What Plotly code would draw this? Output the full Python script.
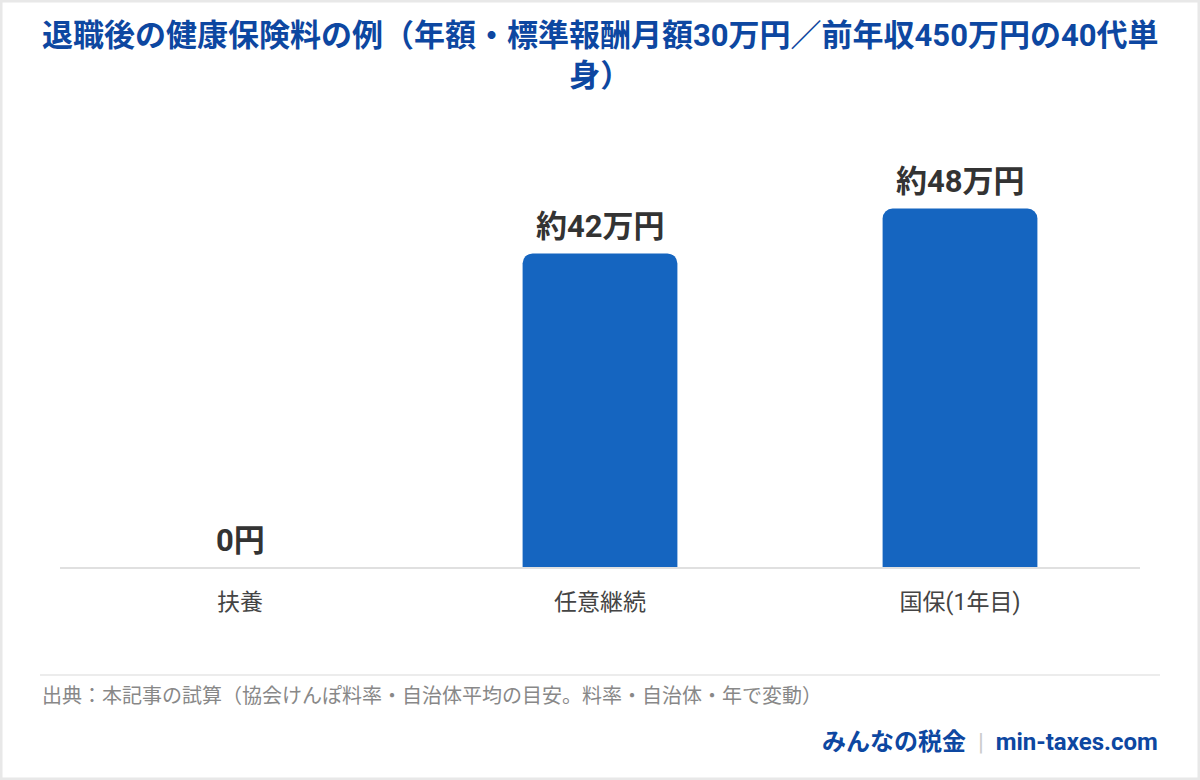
import plotly.graph_objects as go

# data
categories = ["扶養", "任意継続", "国保(1年目)"]
premiums = [0, 42, 48]  # 万円 / year
bar_labels = ["0円", "約42万円", "約48万円"]

title = "退職後の健康保険料の例（年額・標準報酬月額30万円／前年収450万円の40代単<br>身）"
source = "出典：本記事の試算（協会けんぽ料率・自治体平均の目安。料率・自治体・年で変動）"

FONT = "Roboto, 'Noto Sans CJK JP', sans-serif"
BLUE = "#1565c0"
NAVY = "#0d47a1"

# pixel -> paper helpers (plot area x 60..1140, y 119..567)
def px(x):
    return (x - 60) / 1080

def py(y):
    return (567 - y) / 448

fig = go.Figure()

fig.add_trace(go.Bar(
    x=categories,
    y=premiums,
    marker=dict(color=BLUE, line=dict(width=0)),
    hoverinfo="skip",
))

# value labels above each bar
for cat, val, lab in zip(categories, premiums, bar_labels):
    fig.add_annotation(
        x=cat, y=val, text="<b>" + lab + "</b>",
        xanchor="center", yanchor="middle", yshift=27,
        showarrow=False,
        font=dict(size=31, color="#333333", family=FONT),
    )

fig.update_layout(
    width=1200,
    height=780,
    margin=dict(l=60, r=60, t=119, b=213),
    paper_bgcolor="white",
    plot_bgcolor="white",
    bargap=0.57,
    barcornerradius=10,
    showlegend=False,
    font=dict(family=FONT),
    xaxis=dict(
        showline=True,
        linecolor="#e0e0e0",
        linewidth=2,
        showgrid=False,
        ticks="outside",
        ticklen=13,
        tickcolor="rgba(0,0,0,0)",
        tickfont=dict(size=23, color="#444444", family=FONT),
        fixedrange=True,
    ),
    yaxis=dict(
        range=[0, 60],
        visible=False,
        showgrid=False,
        zeroline=False,
        fixedrange=True,
    ),
)

# title as annotation (handles two lines cleanly)
fig.add_annotation(
    text="<b>" + title + "</b>", xref="paper", yref="paper",
    x=0.5, y=py(55), xanchor="center", yanchor="middle",
    showarrow=False, font=dict(size=31, color=NAVY, family=FONT),
)

# card border
fig.add_shape(type="rect", xref="paper", yref="paper",
              x0=px(1), x1=px(1199), y0=py(1), y1=py(779),
              line=dict(color="#e8e8e8", width=3), layer="below")
# footer separator
fig.add_shape(type="line", xref="paper", yref="paper",
              x0=px(40), x1=px(1160), y0=py(675), y1=py(675),
              line=dict(color="#ececec", width=2))

fig.add_annotation(
    text=source, xref="paper", yref="paper",
    x=px(40), y=py(696), xanchor="left", yanchor="middle",
    showarrow=False, font=dict(size=20, color="#888888", family=FONT),
)
fig.add_annotation(
    text="<b>みんなの税金</b>  <span style='color:#cccccc'>|</span>  <b>min-taxes.com</b>",
    xref="paper", yref="paper",
    x=px(1160), y=py(742), xanchor="right", yanchor="middle",
    showarrow=False, font=dict(size=24, color=NAVY, family=FONT),
)

fig.write_html("out.html", config={"displayModeBar": False},
               post_script="document.body.style.margin='0';")
